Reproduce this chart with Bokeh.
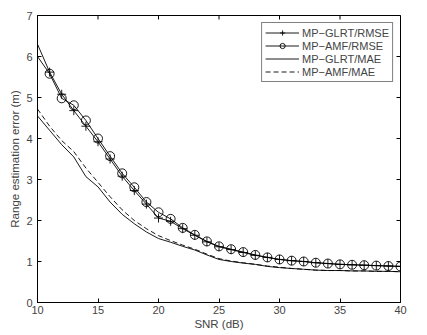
import math
from bokeh.plotting import figure
from bokeh.models import Range1d, Legend, LegendItem, FixedTicker
from bokeh.embed import file_html
from bokeh.resources import INLINE

snr = list(range(10, 41))
glrt_rmse = [6.30, 5.62, 5.08, 4.68, 4.30, 3.92, 3.50, 3.08, 2.73, 2.40, 2.06, 1.98, 1.80, 1.64, 1.48, 1.36,
             1.29, 1.22, 1.15, 1.10, 1.05, 1.02, 1.00, 0.97, 0.95, 0.93, 0.92, 0.91, 0.90, 0.89, 0.88]
amf_rmse = [6.00, 5.58, 4.98, 4.81, 4.44, 4.00, 3.57, 3.15, 2.81, 2.45, 2.20, 2.04, 1.82, 1.65, 1.49, 1.37,
            1.30, 1.23, 1.16, 1.10, 1.05, 1.02, 1.00, 0.97, 0.95, 0.93, 0.92, 0.91, 0.90, 0.89, 0.88]
glrt_mae = [4.55, 4.20, 3.85, 3.55, 3.07, 2.82, 2.45, 2.15, 1.92, 1.72, 1.56, 1.47, 1.37, 1.28, 1.16, 1.05,
            1.00, 0.96, 0.93, 0.88, 0.85, 0.83, 0.81, 0.79, 0.78, 0.78, 0.77, 0.77, 0.76, 0.76, 0.75]
amf_mae = [4.72, 4.30, 3.95, 3.68, 3.28, 2.93, 2.58, 2.26, 2.00, 1.80, 1.63, 1.51, 1.40, 1.30, 1.18, 1.07,
           1.01, 0.97, 0.93, 0.89, 0.86, 0.83, 0.81, 0.79, 0.78, 0.78, 0.77, 0.77, 0.76, 0.76, 0.75]
x_ticks = [10, 15, 20, 25, 30, 35, 40]
y_ticks = [0, 1, 2, 3, 4, 5, 6, 7]
labels = ["MP\u2212GLRT/RMSE", "MP\u2212AMF/RMSE", "MP\u2212GLRT/MAE", "MP\u2212AMF/MAE"]

FONT = "Liberation Sans"
X0, X1, Y0, Y1 = 10, 40, 0, 7

p = figure(width=427, height=335, output_backend="svg", toolbar_location=None,
           x_range=Range1d(X0, X1), y_range=Range1d(Y0, Y1),
           min_border_left=37, min_border_right=27, min_border_top=15, min_border_bottom=33,
           x_axis_label="SNR (dB)", y_axis_label="Range estimation error (m)")
p.background_fill_color = "white"
p.border_fill_color = "white"
p.outline_line_color = "black"
p.outline_line_width = 1
p.xgrid.visible = False
p.ygrid.visible = False

for ax in (p.xaxis[0], p.yaxis[0]):
    ax.major_tick_in = 4
    ax.major_tick_out = 0
    ax.minor_tick_in = 0
    ax.minor_tick_out = 0
    ax.axis_line_color = "black"
    ax.major_label_text_font = FONT
    ax.major_label_text_font_size = "11px"
    ax.axis_label_text_font = FONT
    ax.axis_label_text_font_size = "11.5px"
    ax.axis_label_text_font_style = "normal"
p.xaxis[0].ticker = FixedTicker(ticks=x_ticks)
p.yaxis[0].ticker = FixedTicker(ticks=y_ticks)
p.xaxis[0].major_label_standoff = 3
p.xaxis[0].axis_label_standoff = 1
p.yaxis[0].major_label_standoff = 5
p.yaxis[0].axis_label_standoff = 2

# mirrored inward ticks on top and right edges (half of each dash is clipped by the frame)
p.scatter(x_ticks, [Y1] * len(x_ticks), marker="dash", size=8, angle=math.pi / 2,
          line_color="black", line_width=1)
p.scatter([X1] * len(y_ticks), y_ticks, marker="dash", size=8,
          line_color="black", line_width=1)

l1 = p.line(snr, glrt_rmse, line_color="black", line_width=0.9)
m1 = p.scatter(snr[1:], glrt_rmse[1:], marker="cross", size=9, line_color="black", line_width=0.9)
l2 = p.line(snr, amf_rmse, line_color="black", line_width=0.9)
m2 = p.scatter(snr[1:], amf_rmse[1:], marker="circle", size=9, line_color="black",
               fill_color=None, line_width=0.9)
l3 = p.line(snr, glrt_mae, line_color="black", line_width=0.9)
l4 = p.line(snr, amf_mae, line_color="black", line_width=0.9, line_dash="5 3")

legend = Legend(items=[LegendItem(label=labels[0], renderers=[l1, m1]),
                       LegendItem(label=labels[1], renderers=[l2, m2]),
                       LegendItem(label=labels[2], renderers=[l3]),
                       LegendItem(label=labels[3], renderers=[l4])],
                location="top_right", margin=7, padding=3, spacing=0,
                glyph_width=34, glyph_height=13, label_height=13, label_standoff=3,
                label_text_font=FONT, label_text_font_size="11px",
                border_line_color="black", border_line_width=1,
                background_fill_alpha=1.0)
p.add_layout(legend, "center")

open("out.html", "w").write(file_html(p, INLINE))
